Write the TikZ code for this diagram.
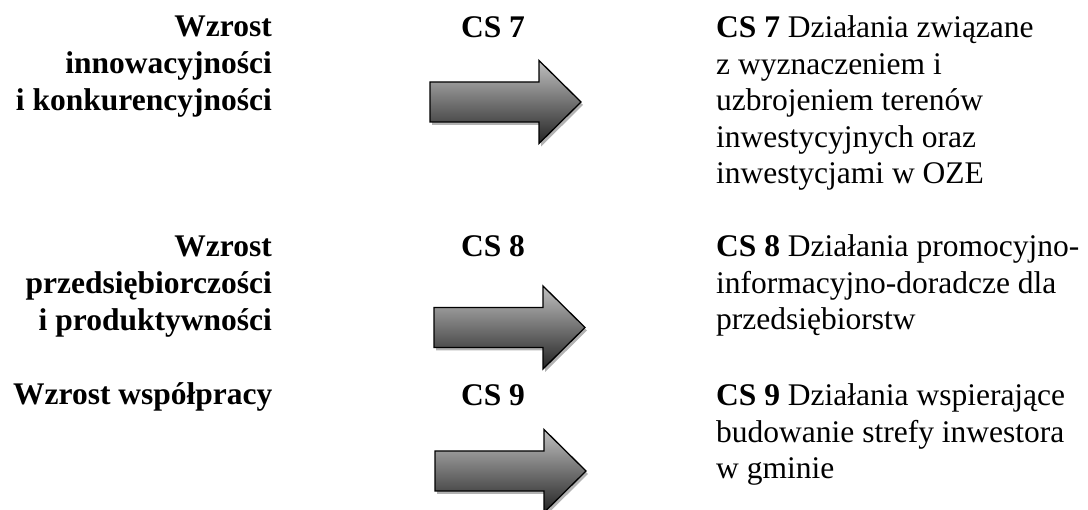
\documentclass[tikz,border=0pt]{standalone}
\usepackage{fontspec}
\setmainfont{Liberation Serif}
\usetikzlibrary{shadows}
\definecolor{arrtop}{RGB}{192,192,192}
\definecolor{arrbot}{RGB}{36,36,36}
\tikzset{
  txt/.style={inner sep=0pt, font=\fontsize{31.5}{36.4}\selectfont},
  lefttxt/.style={txt, align=right, font=\fontsize{31.5}{36.8}\selectfont\bfseries},
  righttxt/.style={txt, align=left},
  midtxt/.style={txt, font=\fontsize{31.5}{36.4}\selectfont\bfseries},
  arrowbody/.style={draw=black, line width=1.3pt, line join=miter,
    top color=arrtop, bottom color=arrbot,
    drop shadow={shadow xshift=2pt, shadow yshift=-3pt, opacity=0.3, fill=black}},
  bigarrow/.pic={
    \path[arrowbody] (0,-20) -- (109,-20) -- (109,-41.5) -- (151,0)
      -- (109,41.5) -- (109,20) -- (0,20) -- cycle;
  }
}
\begin{document}
\begin{tikzpicture}[x=1pt,y=1pt]
\useasboundingbox (0,0) rectangle (1088,-510);
\fill[white] (0,0) rectangle (1088,-510);

% left column (base anchor = baseline of last line)
\node[lefttxt, anchor=base east] (l1) at (272,-110.6) {Wzrost\\innowacyjności\\i konkurencyjności};
\node[lefttxt, anchor=base east] (l2) at (272,-330.6) {Wzrost\\przedsiębiorczości\\i produktywności};
\node[lefttxt, anchor=base west] (l3) at (13,-405) {Wzrost współpracy};

% middle column
\node[midtxt, anchor=base] (m1) at (493,-38) {CS 7};
\node[midtxt, anchor=base] (m2) at (493,-257) {CS 8};
\node[midtxt, anchor=base] (m3) at (493,-406) {CS 9};

\pic (a1) at (430,-102) {bigarrow};
\pic (a2) at (434,-327.5) {bigarrow};
\pic (a3) at (435,-471) {bigarrow};

% right column
\node[righttxt, anchor=base west] (r1) at (716,-183.6) {\textbf{CS 7} Działania związane\\z wyznaczeniem i\\uzbrojeniem terenów\\inwestycyjnych oraz\\inwestycjami w OZE};
\node[righttxt, anchor=base west] (r2) at (716,-329.8) {\textbf{CS 8} Działania promocyjno-\\informacyjno-doradcze dla\\przedsiębiorstw};
\node[righttxt, anchor=base west] (r3) at (716,-478.8) {\textbf{CS 9} Działania wspierające\\budowanie strefy inwestora\\w gminie};
\end{tikzpicture}
\end{document}
